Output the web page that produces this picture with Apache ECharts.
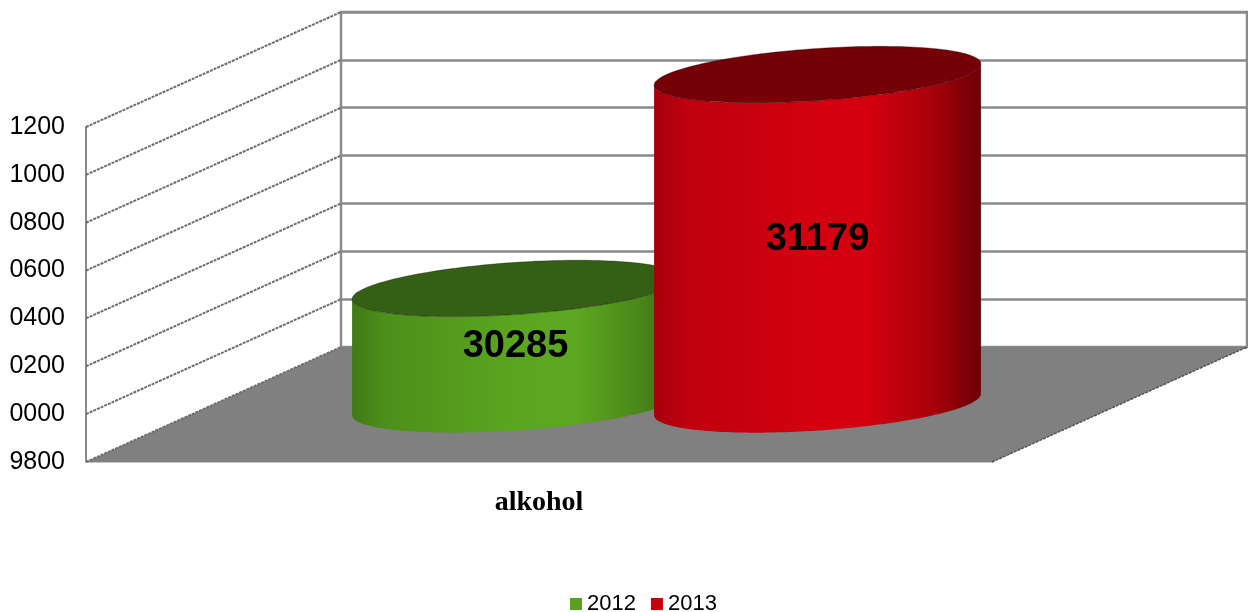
<!DOCTYPE html>
<html>
<head>
<meta charset="utf-8">
<script src="https://cdn.jsdelivr.net/npm/echarts@6/dist/echarts.min.js"></script>
<style>html,body{margin:0;padding:0;background:#fff}#c{width:1248px;height:612px}</style>
</head>
<body>
<div id="c"></div>
<script>
// ---- data ----
const categories = ['alkohol'];
const seriesNames = ['2012', '2013'];
const values2012 = [30285];
const values2013 = [31179];
const tickValues = [29800, 30000, 30200, 30400, 30600, 30800, 31000, 31200];
const tickLabels = ['9800', '0000', '0200', '0400', '0600', '0800', '1000', '1200'];

// ---- layout / style constants ----
const AXIS_MIN = 29800, AXIS_MAX = 31200, AXIS_STEP = 200;
const DX = 255, DY = -115;            // depth vector of the oblique 3D box
const FRONT = {left: 86, top: 127, width: 906, height: 335};
const BACK = {left: FRONT.left + DX, top: FRONT.top + DY, width: FRONT.width, height: FRONT.height};
const BAR_OFFSET = 151;               // half distance between the two cylinder centres
const RX = 151;                       // cylinder radius along x
const DEPTH_FR = 0.245;               // cylinder radius along depth (fraction of depth)
const FONT = '"Liberation Sans", Arial, sans-serif';

const STYLE = {
  '2012': {
    legend: '#5aa01e', cap: '#365f16',
    body: [[0, '#3f7a16'], [0.1, '#4d8f1b'], [0.5, '#5ba61f'], [0.68, '#5ca820'], [0.88, '#4a8719'], [1, '#38650f']]
  },
  '2013': {
    legend: '#c8000a', cap: '#750007',
    body: [[0, '#a6000c'], [0.1, '#bf000e'], [0.5, '#d4000f'], [0.66, '#d3000f'], [0.85, '#a9000b'], [1, '#6c0004']]
  }
};

function cylinderItem(sIdx, name) {
  const st = STYLE[name];
  return function (params, api) {
    const cat = api.value(0), v = api.value(1);
    const topP = api.coord([cat, v]);
    const baseP = api.coord([cat, AXIS_MIN]);
    const cx = topP[0] + (sIdx - 0.5) * 2 * BAR_OFFSET + 0.5 * DX;
    const cyTop = topP[1] + 0.5 * DY;
    const cyBot = baseP[1] + 0.5 * DY;
    const bx = DEPTH_FR * DX, by = DEPTH_FR * DY;
    const t0 = Math.atan2(bx, RX);
    const pt = (cy, t) => [cx + RX * Math.cos(t) + bx * Math.sin(t), cy + by * Math.sin(t)];
    const N = 90;
    const body = [];
    for (let i = 0; i <= N; i++) body.push(pt(cyBot, t0 + Math.PI + Math.PI * i / N));
    for (let i = N; i >= 0; i--) body.push(pt(cyTop, t0 + Math.PI + Math.PI * i / N));
    const cap = [];
    for (let i = 0; i < 2 * N; i++) cap.push(pt(cyTop, Math.PI * i / N));
    return {
      type: 'group',
      children: [
        {
          type: 'polygon', shape: {points: body},
          style: {
            fill: new echarts.graphic.LinearGradient(0, 0, 1, 0,
              st.body.map(s => ({offset: s[0], color: s[1]})))
          }
        },
        {type: 'polygon', shape: {points: cap}, style: {fill: st.cap, stroke: 'rgba(0,0,0,0.35)', lineWidth: 1}},
        {
          type: 'text',
          style: {
            text: String(v), x: cx, y: (cyTop + cyBot) / 2,
            fill: '#000', font: 'bold 38px ' + FONT,
            align: 'center', verticalAlign: 'middle'
          }
        }
      ]
    };
  };
}

function floorItem(params, api) {
  const cs = params.coordSys;
  const y0 = api.coord([0, api.value(1)])[1];
  const l = cs.x, r = cs.x + cs.width;
  return {
    type: 'group',
    children: [
      {
        type: 'polygon',
        shape: {points: [[l, y0], [r, y0], [r + DX, y0 + DY], [l + DX, y0 + DY]]},
        style: {fill: '#808080'}
      },
      {
        type: 'line',
        shape: {x1: r, y1: y0, x2: r + DX, y2: y0 + DY},
        style: {stroke: '#555', lineWidth: 1.5, lineDash: [3, 1]}
      }
    ]
  };
}

function sideWallItem(params, api) {
  const cs = params.coordSys;
  const y = api.coord([0, api.value(1)])[1];
  const l = cs.x;
  return {
    type: 'line',
    shape: {x1: l, y1: y, x2: l + DX, y2: y + DY},
    style: {stroke: '#6e6e6e', lineWidth: 2, lineDash: [3, 1]}
  };
}

const chart = echarts.init(document.getElementById('c'), null, {renderer: 'canvas'});
const seriesData = [values2012, values2013];

chart.setOption({
  animation: false,
  backgroundColor: '#fff',
  grid: [
    {left: FRONT.left, top: FRONT.top, width: FRONT.width, height: FRONT.height, containLabel: false},
    {left: BACK.left, top: BACK.top, width: BACK.width, height: BACK.height, containLabel: false,
      show: true, borderColor: '#8a8a8a', borderWidth: 2.5, backgroundColor: 'transparent'}
  ],
  xAxis: [
    {
      gridIndex: 0, type: 'category', data: categories, boundaryGap: true,
      axisLine: {show: true, lineStyle: {color: '#c4c4c4', width: 2}},
      axisTick: {show: false},
      axisLabel: {
        margin: 27, color: '#000', fontSize: 28, fontWeight: 'bold',
        fontFamily: '"Liberation Serif", "Times New Roman", serif'
      },
      splitLine: {show: false}
    },
    {gridIndex: 1, type: 'category', data: categories, show: false}
  ],
  yAxis: [
    {
      gridIndex: 0, type: 'value', min: AXIS_MIN, max: AXIS_MAX, interval: AXIS_STEP,
      axisLine: {show: true, lineStyle: {color: '#8a8a8a', width: 2}},
      axisTick: {show: false},
      splitLine: {show: false},
      axisLabel: {
        margin: 21, color: '#000', fontSize: 25, fontFamily: FONT,
        formatter: v => { const i = tickValues.indexOf(v); return i >= 0 ? tickLabels[i] : ''; }
      }
    },
    {
      gridIndex: 1, type: 'value', min: AXIS_MIN, max: AXIS_MAX, interval: AXIS_STEP,
      axisLine: {show: false}, axisTick: {show: false}, axisLabel: {show: false},
      splitLine: {show: true, lineStyle: {color: '#8a8a8a', width: 2.5}}
    }
  ],
  legend: {
    data: seriesNames,
    left: 565, top: 588,
    icon: 'rect', itemWidth: 12, itemHeight: 12, itemGap: 15,
    textStyle: {color: '#000', fontSize: 22, fontFamily: FONT}
  },
  series: [
    {
      type: 'custom', name: '__floor', xAxisIndex: 0, yAxisIndex: 0, z: 1,
      encode: {x: 0, y: 1}, silent: true,
      data: [[0, AXIS_MIN]], renderItem: floorItem
    },
    {
      type: 'custom', name: '__wall', xAxisIndex: 0, yAxisIndex: 0, z: 2,
      encode: {x: 0, y: 1}, silent: true,
      data: tickValues.map(v => [0, v]), renderItem: sideWallItem
    }
  ].concat(seriesNames.map((name, s) => ({
    type: 'custom', name: name, xAxisIndex: 0, yAxisIndex: 0, z: 5 + s,
    encode: {x: 0, y: 1},
    itemStyle: {color: STYLE[name].legend},
    data: categories.map((c, i) => [i, seriesData[s][i]]),
    renderItem: cylinderItem(s, name)
  })))
});
</script>
</body>
</html>
